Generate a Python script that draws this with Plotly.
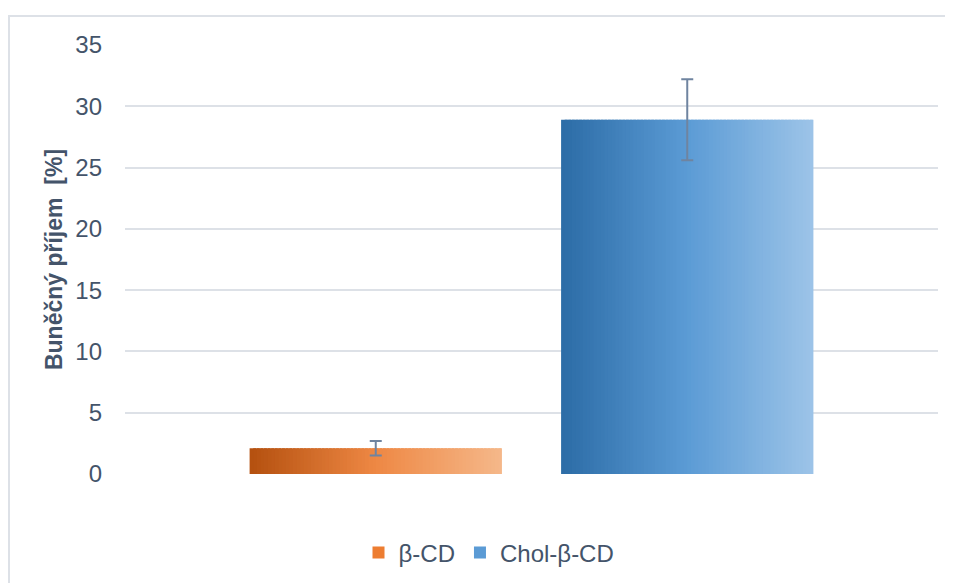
import plotly.graph_objects as go

# ---- data ----
series = ["β-CD", "Chol-β-CD"]
values = [2.1, 28.9]
errors = [0.6, 3.3]
y_ticks = [0, 5, 10, 15, 20, 25, 30, 35]
y_title = "Buněčný příjem  [%]"

# ---- styles ----
gradients = [
    [(0.0, (180, 80, 15)), (0.5, (238, 136, 68)), (1.0, (245, 184, 138))],
    [(0.0, (44, 108, 166)), (0.5, (91, 155, 213)), (1.0, (157, 196, 232))],
]
legend_colors = ["#ed7d31", "#5b9bd5"]
text_color = "#44546A"
grid_color = "#DDE1E7"
err_color = "#6F84A0"
FONT = "Liberation Sans, Arial, sans-serif"
N = 70
BAR_W = 0.81

# page offset (body margin) compensation
OFF = 8
PL, PT, PW, PH = 125, 45, 813, 429  # plot area in page pixels


def grad_color(stops, t):
    for (t0, c0), (t1, c1) in zip(stops[:-1], stops[1:]):
        if t <= t1:
            f = (t - t0) / (t1 - t0) if t1 > t0 else 0
            c = [round(a + (b - a) * f) for a, b in zip(c0, c1)]
            return f"rgb({c[0]},{c[1]},{c[2]})"
    c = stops[-1][1]
    return f"rgb({c[0]},{c[1]},{c[2]})"


fig = go.Figure()

for i, (name, val) in enumerate(zip(series, values)):
    slice_w = BAR_W / N
    offsets = [-BAR_W / 2 + k * slice_w for k in range(N)]
    widths = [slice_w * 1.8 if k < N - 1 else slice_w for k in range(N)]
    colors = [grad_color(gradients[i], (k + 0.5) / N) for k in range(N)]
    fig.add_trace(go.Bar(
        x=[i] * N, y=[val] * N, offset=offsets, width=widths,
        marker=dict(color=colors, line=dict(width=0)),
        showlegend=False, hoverinfo="skip",
    ))
    fig.add_trace(go.Bar(
        x=[None], y=[None], name=name,
        marker=dict(color=legend_colors[i], line=dict(width=0)),
        showlegend=True,
    ))

fig.add_trace(go.Scatter(
    x=list(range(len(series))), y=values, mode="markers",
    marker=dict(size=1, opacity=0),
    error_y=dict(type="data", array=errors, visible=True,
                 color=err_color, thickness=2, width=6),
    showlegend=False, hoverinfo="skip",
))

W, H = 953 - OFF, 583 - OFF
fig.update_layout(
    width=W, height=H,
    barmode="overlay",
    paper_bgcolor="white", plot_bgcolor="white",
    margin=dict(l=PL - OFF, r=W - (PL - OFF) - PW, t=PT - OFF,
                b=H - (PT - OFF) - PH, autoexpand=False),
    font=dict(family=FONT, color=text_color, size=24),
    legend=dict(orientation="h", xref="container", yref="container",
                x=(489 - OFF) / W, xanchor="center",
                y=(H - (553 - OFF)) / H, yanchor="middle",
                font=dict(size=24, color=text_color),
                itemwidth=30, traceorder="normal"),
    xaxis=dict(range=[-0.805, 1.805], showgrid=False, zeroline=False,
               showticklabels=False, showline=False, ticks=""),
    yaxis=dict(range=[0, 35], tickvals=y_ticks, showgrid=True,
               gridcolor=grid_color, gridwidth=2, zeroline=False,
               showline=False, ticks="", ticklabelstandoff=22,
               tickfont=dict(size=24, color=text_color),
               title=dict(text=y_title, standoff=6,
                          font=dict(size=23, color=text_color,
                                    family=FONT, weight="bold"))),
    shapes=[dict(type="rect", xref="paper", yref="paper",
                 x0=(9 - PL) / PW, x1=(970 - PL) / PW,
                 y0=(PT + PH - 600) / PH, y1=(PT + PH - 16) / PH,
                 line=dict(color=grid_color, width=2), layer="below")],
)

fig.write_html("out.html")
